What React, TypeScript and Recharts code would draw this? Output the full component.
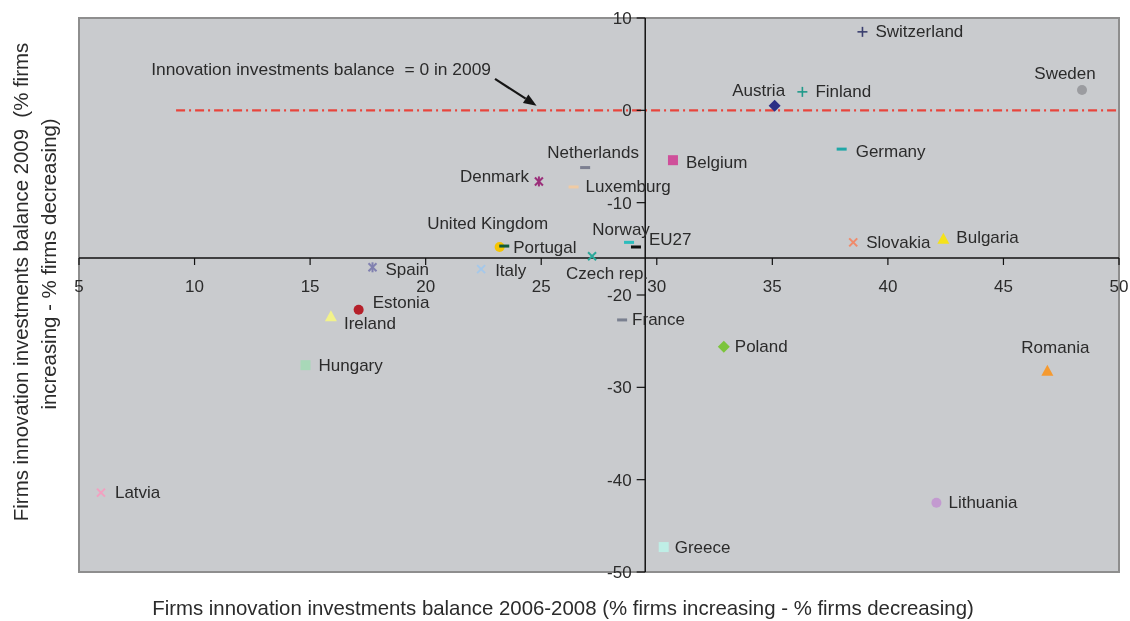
import React from "react";
import {
  ScatterChart,
  Scatter,
  XAxis,
  YAxis,
  ReferenceLine,
  ReferenceArea,
} from "recharts";

// Firms innovation investments balance, % increasing - % decreasing
const countries = [
  "Switzerland", "Sweden", "Finland", "Austria", "Germany", "Belgium",
  "Netherlands", "Denmark", "Luxemburg", "United Kingdom", "Portugal", "Norway",
  "EU27", "Czech rep.", "Italy", "Spain", "Estonia", "Ireland", "Hungary",
  "Latvia", "France", "Poland", "Slovakia", "Bulgaria", "Romania", "Lithuania",
  "Greece",
];
const balance2006to2008 = [
  38.9, 48.4, 36.3, 35.1, 38.0, 30.7, 26.9, 24.9, 26.4, 23.2, 23.4, 28.8,
  29.1, 27.2, 22.4, 17.7, 17.1, 15.9, 14.8, 5.95, 28.5, 32.9, 38.5, 42.4,
  46.9, 42.1, 30.3,
];
const balance2009 = [
  8.5, 2.2, 2.0, 0.5, -4.2, -5.4, -6.2, -7.7, -8.3, -14.8, -14.7, -14.3,
  -14.8, -15.8, -17.2, -17.0, -21.6, -22.3, -27.6, -41.4, -22.7, -25.6,
  -14.3, -13.9, -28.2, -42.5, -47.3,
];
const xTicks = [5, 10, 15, 20, 25, 30, 35, 40, 45, 50];
const yTicks = [10, 0, -10, -20, -30, -40, -50];

// where the two axes cross
const crossX = 29.5;
const crossY = -16;

const points = countries.map((name, i) => ({
  name,
  x: balance2006to2008[i],
  y: balance2009[i],
}));

type Kind = "circle" | "square" | "diamond" | "triangle" | "x" | "star" | "plus" | "dash";

const markerStyle: Record<string, { kind: Kind; color: string }> = {
  Switzerland: { kind: "plus", color: "#3a3f6e" },
  Sweden: { kind: "circle", color: "#9b9ca0" },
  Finland: { kind: "plus", color: "#1f9a8a" },
  Austria: { kind: "diamond", color: "#2b2f86" },
  Germany: { kind: "dash", color: "#20a7a7" },
  Belgium: { kind: "square", color: "#cf4f9a" },
  Netherlands: { kind: "dash", color: "#7c7f90" },
  Denmark: { kind: "star", color: "#9b2f7a" },
  Luxemburg: { kind: "dash", color: "#f0cba4" },
  "United Kingdom": { kind: "circle", color: "#f5c400" },
  Portugal: { kind: "dash", color: "#0f5a3a" },
  Norway: { kind: "dash", color: "#2bbcbc" },
  EU27: { kind: "dash", color: "#111111" },
  "Czech rep.": { kind: "x", color: "#2aa89a" },
  Italy: { kind: "x", color: "#a5c8ea" },
  Spain: { kind: "star", color: "#8080b0" },
  Estonia: { kind: "circle", color: "#b5202a" },
  Ireland: { kind: "triangle", color: "#f2f28a" },
  Hungary: { kind: "square", color: "#a8d8b8" },
  Latvia: { kind: "x", color: "#f2a0c0" },
  France: { kind: "dash", color: "#7a8090" },
  Poland: { kind: "diamond", color: "#7cc43c" },
  Slovakia: { kind: "x", color: "#f08a6a" },
  Bulgaria: { kind: "triangle", color: "#f5e21a" },
  Romania: { kind: "triangle", color: "#f59a30" },
  Lithuania: { kind: "circle", color: "#c39ad0" },
  Greece: { kind: "square", color: "#bfeee6" },
};

// label offset from the marker centre
const labelPlace: Record<string, { dx: number; dy: number; anchor: "start" | "middle" | "end" }> = {
  Switzerland: { dx: 13, dy: 0, anchor: "start" },
  Sweden: { dx: -17, dy: -17, anchor: "middle" },
  Finland: { dx: 13, dy: 0, anchor: "start" },
  Austria: { dx: -16, dy: -15, anchor: "middle" },
  Germany: { dx: 14, dy: 2, anchor: "start" },
  Belgium: { dx: 13, dy: 2, anchor: "start" },
  Netherlands: { dx: 8, dy: -15, anchor: "middle" },
  Denmark: { dx: -10, dy: -5, anchor: "end" },
  Luxemburg: { dx: 12, dy: 0, anchor: "start" },
  "United Kingdom": { dx: -12, dy: -23, anchor: "middle" },
  Portugal: { dx: 9, dy: 1, anchor: "start" },
  Norway: { dx: -8, dy: -13, anchor: "middle" },
  EU27: { dx: 13, dy: -7, anchor: "start" },
  "Czech rep.": { dx: 15, dy: 17, anchor: "middle" },
  Italy: { dx: 14, dy: 1, anchor: "start" },
  Spain: { dx: 13, dy: 2, anchor: "start" },
  Estonia: { dx: 14, dy: -7, anchor: "start" },
  Ireland: { dx: 13, dy: 7, anchor: "start" },
  Hungary: { dx: 13, dy: 0, anchor: "start" },
  Latvia: { dx: 14, dy: 0, anchor: "start" },
  France: { dx: 10, dy: 0, anchor: "start" },
  Poland: { dx: 11, dy: 0, anchor: "start" },
  Slovakia: { dx: 13, dy: 0, anchor: "start" },
  Bulgaria: { dx: 13, dy: -1, anchor: "start" },
  Romania: { dx: 8, dy: -23, anchor: "middle" },
  Lithuania: { dx: 12, dy: 0, anchor: "start" },
  Greece: { dx: 11, dy: 0, anchor: "start" },
};

const TEXT = "#2b2b2b";

function Glyph({ kind, color, cx, cy }: { kind: Kind; color: string; cx: number; cy: number }) {
  switch (kind) {
    case "circle":
      return <circle cx={cx} cy={cy} r={5} fill={color} />;
    case "square":
      return <rect x={cx - 5} y={cy - 5} width={10} height={10} fill={color} />;
    case "diamond":
      return <polygon points={`${cx},${cy - 6} ${cx + 6},${cy} ${cx},${cy + 6} ${cx - 6},${cy}`} fill={color} />;
    case "triangle":
      return <polygon points={`${cx},${cy - 6} ${cx + 6},${cy + 5} ${cx - 6},${cy + 5}`} fill={color} />;
    case "x":
      return (
        <g stroke={color} strokeWidth={2}>
          <line x1={cx - 4} y1={cy - 4} x2={cx + 4} y2={cy + 4} />
          <line x1={cx - 4} y1={cy + 4} x2={cx + 4} y2={cy - 4} />
        </g>
      );
    case "star":
      return (
        <g stroke={color} strokeWidth={2}>
          <line x1={cx - 4} y1={cy - 4} x2={cx + 4} y2={cy + 4} />
          <line x1={cx - 4} y1={cy + 4} x2={cx + 4} y2={cy - 4} />
          <line x1={cx} y1={cy - 5} x2={cx} y2={cy + 5} />
        </g>
      );
    case "plus":
      return (
        <g stroke={color} strokeWidth={1.6}>
          <line x1={cx - 5} y1={cy} x2={cx + 5} y2={cy} />
          <line x1={cx} y1={cy - 5} x2={cx} y2={cy + 5} />
        </g>
      );
    default:
      return <rect x={cx - 5} y={cy - 1.5} width={10} height={3} fill={color} />;
  }
}

const CountryPoint = (props: any) => {
  const { cx, cy, payload } = props;
  const style = markerStyle[payload.name];
  const place = labelPlace[payload.name];
  return (
    <g>
      <Glyph kind={style.kind} color={style.color} cx={cx} cy={cy} />
      <text
        x={cx + place.dx}
        y={cy + place.dy}
        textAnchor={place.anchor}
        dominantBaseline="central"
        fontSize={17}
        fill={TEXT}
      >
        {payload.name}
      </text>
    </g>
  );
};

// arrow pointing at the zero line, with its note
const ArrowNote = (p: any) => {
  const { x1, y1, x2, y2 } = p;
  const ang = Math.atan2(y2 - y1, x2 - x1);
  const len = 13;
  const half = 5;
  const bx = x2 - len * Math.cos(ang);
  const by = y2 - len * Math.sin(ang);
  const pts = [
    [x2, y2],
    [bx + half * Math.sin(ang), by - half * Math.cos(ang)],
    [bx - half * Math.sin(ang), by + half * Math.cos(ang)],
  ]
    .map((q) => q.join(","))
    .join(" ");
  return (
    <g>
      <line x1={x1} y1={y1} x2={bx} y2={by} stroke="#151515" strokeWidth={2.2} />
      <polygon points={pts} fill="#151515" />
      <text
        x={x1 - 4}
        y={y1 - 10}
        textAnchor="end"
        dominantBaseline="central"
        fontSize={17.4}
        fill={TEXT}
        style={{ whiteSpace: "pre" }}
      >
        {"Innovation investments balance  = 0 in 2009"}
      </text>
    </g>
  );
};

export default function App() {
  return (
    <div
      style={{
        position: "fixed",
        left: 0,
        top: 0,
        fontFamily: "'Liberation Sans', Arial, sans-serif",
      }}
    >
      <ScatterChart
        width={1130}
        height={621}
        margin={{ top: 18, right: 11, bottom: 49, left: 79 }}
      >
        <XAxis type="number" dataKey="x" domain={[5, 50]} hide allowDataOverflow />
        <YAxis type="number" dataKey="y" domain={[-50, 10]} hide allowDataOverflow />
        <ReferenceArea
          x1={5}
          x2={50}
          y1={-50}
          y2={10}
          fill="#c9cbce"
          fillOpacity={1}
          stroke="#8e8e8e"
          strokeWidth={2}
        />
        <ReferenceLine
          segment={[{ x: 9.2, y: 0 }, { x: 50, y: 0 }]}
          stroke="#e8453c"
          strokeWidth={2.2}
          strokeDasharray="9 4 2 4"
        />
        <ReferenceLine x={crossX} stroke="#111" strokeWidth={1.5} />
        <ReferenceLine y={crossY} stroke="#111" strokeWidth={1.5} />
        {xTicks.map((v) => (
          <ReferenceLine
            key={`xt${v}`}
            segment={[{ x: v, y: crossY }, { x: v, y: crossY - 0.75 }]}
            stroke="#111"
            strokeWidth={1.2}
            label={{ value: String(v), position: "bottom", offset: 15, fill: TEXT, fontSize: 17 }}
          />
        ))}
        {yTicks.map((v) => (
          <ReferenceLine
            key={`yt${v}`}
            segment={[{ x: crossX - 0.37, y: v }, { x: crossX, y: v }]}
            stroke="#111"
            strokeWidth={1.2}
            label={{ value: String(v), position: "left", offset: 5, fill: TEXT, fontSize: 17 }}
          />
        ))}
        <ReferenceLine
          segment={[{ x: 23.0, y: 3.4 }, { x: 24.8, y: 0.5 }]}
          shape={ArrowNote}
        />
        <Scatter data={points} shape={CountryPoint} isAnimationActive={false} />
        <text
          x={563}
          y={608}
          textAnchor="middle"
          dominantBaseline="central"
          fontSize={20.4}
          fill={TEXT}
        >
          Firms innovation investments balance 2006-2008 (% firms increasing - % firms decreasing)
        </text>
        <text
          x={21}
          y={282}
          transform="rotate(-90, 21, 282)"
          textAnchor="middle"
          dominantBaseline="central"
          fontSize={20.4}
          fill={TEXT}
          style={{ whiteSpace: "pre" }}
        >
          {"Firms innovation investments balance 2009  (% firms"}
        </text>
        <text
          x={49}
          y={264}
          transform="rotate(-90, 49, 264)"
          textAnchor="middle"
          dominantBaseline="central"
          fontSize={20.4}
          fill={TEXT}
        >
          increasing - % firms decreasing)
        </text>
      </ScatterChart>
    </div>
  );
}
